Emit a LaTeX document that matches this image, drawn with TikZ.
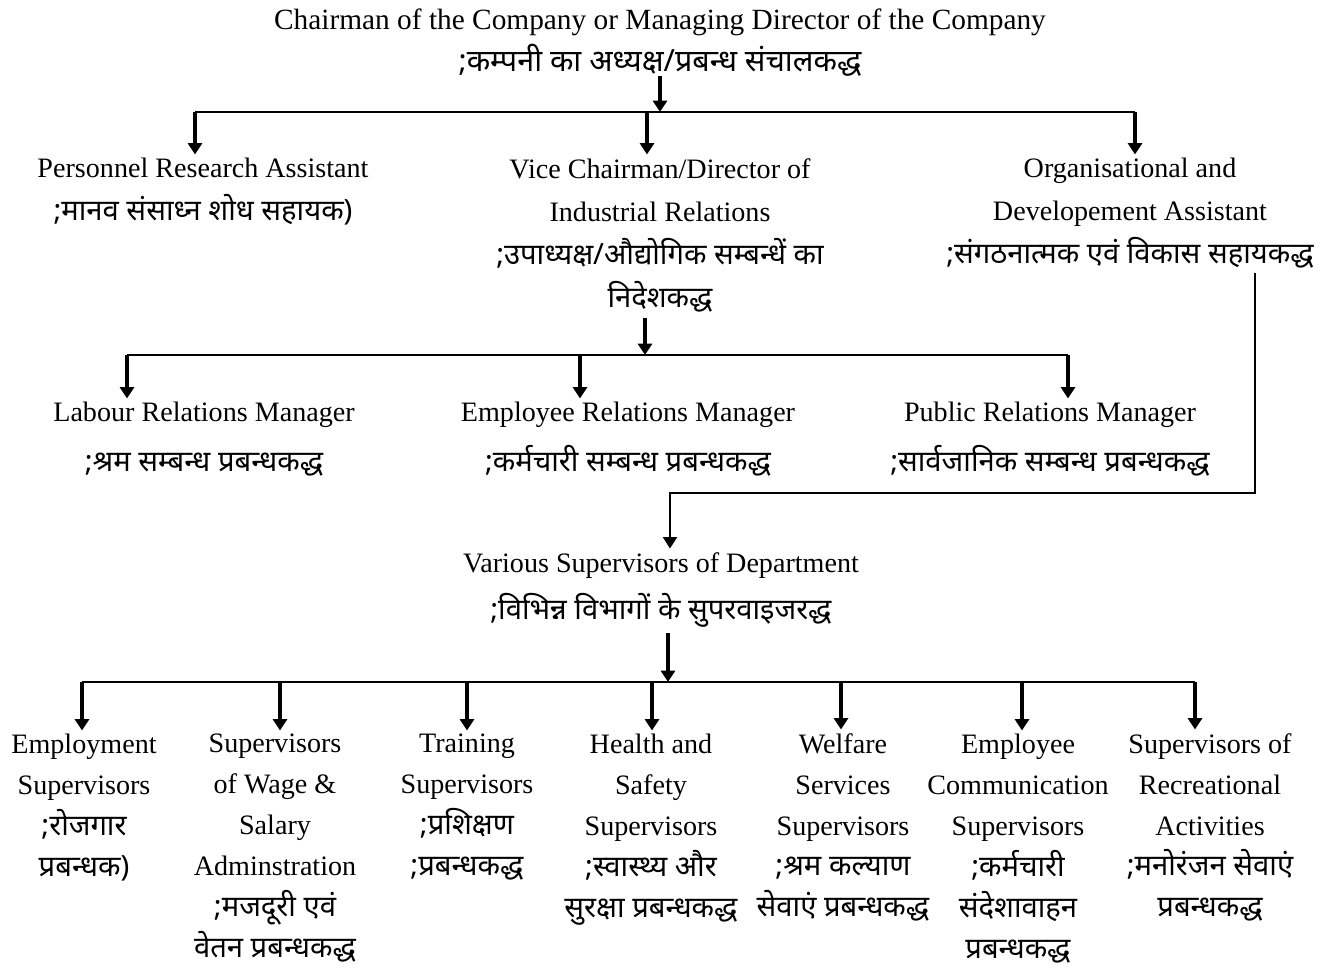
\documentclass[tikz,border=0pt]{standalone}
\usepackage{fontspec}
\setmainfont{Liberation Serif}
\newfontfamily\hindi[Script=Devanagari, Scale=1.04]{Noto Sans}
\usetikzlibrary{arrows.meta}

\begin{document}
\begin{tikzpicture}[x=0.02cm, y=-0.02cm,
    lbl/.style={align=center, inner sep=0pt, anchor=north, font=\fontsize{16}{24.5}\selectfont},
    leaf/.style={lbl, font=\fontsize{16}{23.3}\selectfont},
    link/.style={line width=1.1pt},
    tip/.style={-{Triangle[length=6.5pt, width=8pt]}},
    arr/.style={line width=2.2pt, tip}]
    \useasboundingbox (0,0) rectangle (1325,969);

    % top of the chart
    \node[lbl, font=\fontsize{16.7}{24}\selectfont] (chair) at (660,8) {Chairman of the Company or Managing Director of the Company\\ {\hindi ;कम्पनी का अध्यक्ष/प्रबन्ध संचालकद्ध}};

    % second level
    \node[lbl] (research) at (203,158) {Personnel Research Assistant\\ {\hindi ;मानव संसाध्न शोध सहायक)}};
    \node[lbl] (vice) at (660,158) {Vice Chairman/Director of\\ Industrial Relations\\ {\hindi ;उपाध्यक्ष/औद्योगिक सम्बन्धें का}\\ {\hindi निदेशकद्ध}};
    \node[lbl] (orgdev) at (1130,158) {Organisational and\\ Developement Assistant\\ {\hindi ;संगठनात्मक एवं विकास सहायकद्ध}};

    % managers
    \node[lbl, font=\fontsize{16}{28}\selectfont] (labour) at (204,402) {Labour Relations Manager\\ {\hindi ;श्रम सम्बन्ध प्रबन्धकद्ध}};
    \node[lbl, font=\fontsize{16}{28}\selectfont] (employee) at (628,402) {Employee Relations Manager\\ {\hindi ;कर्मचारी सम्बन्ध प्रबन्धकद्ध}};
    \node[lbl, font=\fontsize{16}{28}\selectfont] (public) at (1050,402) {Public Relations Manager\\ {\hindi ;सार्वजानिक सम्बन्ध प्रबन्धकद्ध}};

    % supervisors
    \node[lbl, font=\fontsize{16}{27}\selectfont] (various) at (661,552) {Various Supervisors of Department\\ {\hindi ;विभिन्न विभागों के सुपरवाइजरद्ध}};

    \node[leaf] (employ) at (84,734) {Employment\\ Supervisors\\ {\hindi ;रोजगार}\\ {\hindi प्रबन्धक)}};
    \node[leaf] (wage) at (275,734) {Supervisors\\ of Wage \&\\ Salary\\ Adminstration\\ {\hindi ;मजदूरी एवं}\\ {\hindi वेतन प्रबन्धकद्ध}};
    \node[leaf] (training) at (467,734) {Training\\ Supervisors\\ {\hindi ;प्रशिक्षण}\\ {\hindi ;प्रबन्धकद्ध}};
    \node[leaf] (health) at (651,734) {Health and\\ Safety\\ Supervisors\\ {\hindi ;स्वास्थ्य और}\\ {\hindi सुरक्षा प्रबन्धकद्ध}};
    \node[leaf] (welfare) at (843,733) {Welfare\\ Services\\ Supervisors\\ {\hindi ;श्रम कल्याण}\\ {\hindi सेवाएं प्रबन्धकद्ध}};
    \node[leaf] (communic) at (1018,734) {Employee\\ Communication\\ Supervisors\\ {\hindi ;कर्मचारी}\\ {\hindi संदेशावाहन}\\ {\hindi प्रबन्धकद्ध}};
    \node[leaf] (recreat) at (1210,733) {Supervisors of\\ Recreational\\ Activities\\ {\hindi ;मनोरंजन सेवाएं}\\ {\hindi प्रबन्धकद्ध}};

    % junctions
    \coordinate (topbar) at (660,112);
    \coordinate (midbar) at (645,355);
    \coordinate (orgturn) at (1255,493);
    \coordinate (varturn) at (670,493);
    \coordinate (lowbar) at (668,682);

    % chairman to second level
    \draw[arr] (chair.south -| topbar) -- (topbar);
    \draw[link] (195,112) -- (1135,112);
    \draw[arr] (195,112) -- ([yshift=2pt]195,0 |- research.north);
    \draw[arr] (647,112) -- ([yshift=2pt]647,0 |- vice.north);
    \draw[arr] (1135,112) -- ([yshift=2pt]1135,0 |- orgdev.north);

    % vice chairman to managers
    \draw[arr] ([yshift=-3pt]vice.south -| midbar) -- (midbar);
    \draw[link] (127,355) -- (1068,355);
    \draw[arr] (127,355) -- ([yshift=2pt]127,0 |- labour.north);
    \draw[arr] (580,355) -- ([yshift=2pt]580,0 |- employee.north);
    \draw[arr] (1068,355) -- ([yshift=2pt]1068,0 |- public.north);

    % organisational assistant to supervisors
    \draw[link, tip] ([yshift=-2pt]orgdev.south -| orgturn) -- (orgturn) -- (varturn) -- ([yshift=2pt]varturn |- various.north);

    % supervisors to departments
    \draw[arr] ([yshift=-3pt]various.south -| lowbar) -- (lowbar);
    \draw[link] (82,682) -- (1195,682);
    \draw[arr] (82,682) -- ([yshift=2pt]82,0 |- employ.north);
    \draw[arr] (280,682) -- ([yshift=2pt]280,0 |- wage.north);
    \draw[arr] (467,682) -- ([yshift=2pt]467,0 |- training.north);
    \draw[arr] (652,682) -- ([yshift=2pt]652,0 |- health.north);
    \draw[arr] (841,682) -- ([yshift=2pt]841,0 |- welfare.north);
    \draw[arr] (1022,682) -- ([yshift=2pt]1022,0 |- communic.north);
    \draw[arr] (1195,682) -- ([yshift=2pt]1195,0 |- recreat.north);
\end{tikzpicture}
\end{document}
